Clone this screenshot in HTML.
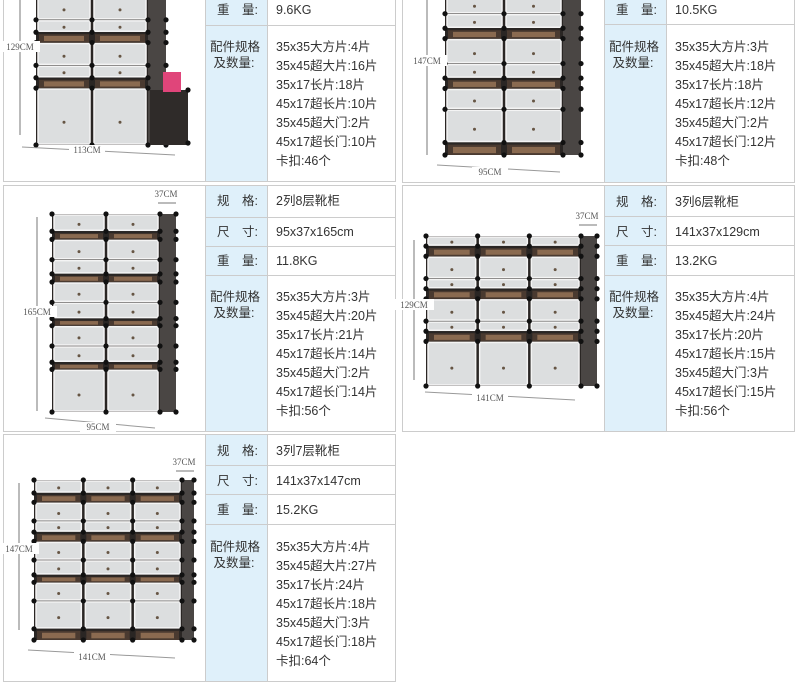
<!DOCTYPE html>
<html><head><meta charset="utf-8">
<style>
body{margin:0;width:800px;height:683px;background:#fff;position:relative;overflow:hidden;font-family:"Liberation Sans","Noto Sans CJK SC",sans-serif;color:#333}
.card{position:absolute;border:1px solid #ccc;background:#fff;box-sizing:border-box}
.lab{position:absolute;background:#dff0fa;border-left:1px solid #ccc;border-right:1px solid #ccc;box-sizing:border-box}
.hl{position:absolute;height:1px;background:#ccc}
.t{position:absolute;font-size:12.5px;white-space:nowrap;line-height:16px}
svg{position:absolute;left:0;top:0}
.dim{font-family:"Liberation Serif",serif;font-size:9px;fill:#555}
</style></head><body>
<div id="root"></div>
<svg id="sv" width="800" height="683"></svg>
<script>
var root=document.getElementById('root'),sv=document.getElementById('sv'),S='';
function div(c,st,txt){var d=document.createElement('div');d.className=c;d.style.cssText=st;if(txt)d.innerHTML=txt;root.appendChild(d);}
function card(x,y,w,h,lx,lw,rows,vals,parts,plbl){
 div('card','left:'+x+'px;top:'+y+'px;width:'+w+'px;height:'+h+'px');
 div('lab','left:'+lx+'px;top:'+(y+1)+'px;width:'+lw+'px;height:'+(h-2)+'px');
 var labs=['规&emsp;格:','尺&emsp;寸:','重&emsp;量:'];
 for(var i=0;i<rows.length;i++){
  var r=rows[i];
  div('hl','left:'+lx+'px;top:'+r[1]+'px;width:'+(x+w-lx-1)+'px');
  if(vals[i]!=null){div('t','left:'+(lx+12)+'px;top:'+(r[0]-8)+'px',labs[r[2]]);div('t','left:'+(lx+lw+8)+'px;top:'+(r[0]-8)+'px',vals[i]);}
 }
 div('t','left:'+(lx+5)+'px;top:'+(plbl-8)+'px;line-height:16px','配件规格<br>&nbsp;及数量:');
 for(var j=0;j<parts.length;j++)div('t','left:'+(lx+lw+8)+'px;top:'+(plbl-8+j*19)+'px',parts[j]);
}
function cab(x,y,w,h,cols,rows,side){
 side=side||16;
 S+='<rect x="'+x+'" y="'+y+'" width="'+(w+side)+'" height="'+h+'" fill="#2a2624"/>';
 S+='<rect x="'+(x+w)+'" y="'+y+'" width="'+side+'" height="'+h+'" fill="#4a4644"/>';
 var tot=0;rows.forEach(function(r){tot+=r[1];});
 var cy=y,cw=w/cols;
 rows.forEach(function(r){
  var rh=r[1]*h/tot;
  for(var c=0;c<cols;c++){
   var cx=x+c*cw;
   if(r[0]=='g'){S+='<rect x="'+(cx+3)+'" y="'+(cy+2)+'" width="'+(cw-6)+'" height="'+(rh-2)+'" fill="#4a3a30"/><rect x="'+(cx+8)+'" y="'+(cy+rh*0.35)+'" width="'+(cw-16)+'" height="'+(rh*0.5)+'" fill="#8a6a50"/>';}
   else{S+='<rect x="'+(cx+2)+'" y="'+(cy+1)+'" width="'+(cw-4)+'" height="'+(rh-2)+'" fill="#dcdedf" stroke="#f4f4f4" stroke-width="1.5"/>';
    S+='<circle cx="'+(cx+cw/2)+'" cy="'+(cy+rh*0.6)+'" r="1.5" fill="#654"/>';}
   S+='<circle cx="'+cx+'" cy="'+cy+'" r="2.6" fill="#111"/>';
  }
  S+='<circle cx="'+(x+w)+'" cy="'+cy+'" r="2.6" fill="#111"/><circle cx="'+(x+w+side)+'" cy="'+cy+'" r="2.6" fill="#111"/>';
  cy+=rh;
 });
 for(var c=0;c<=cols;c++)S+='<circle cx="'+(x+c*cw)+'" cy="'+(y+h)+'" r="2.6" fill="#111"/>';
 S+='<circle cx="'+(x+w+side)+'" cy="'+(y+h)+'" r="2.6" fill="#111"/>';
}
function vdim(x,y1,y2,t,ty){S+='<line x1="'+x+'" y1="'+y1+'" x2="'+x+'" y2="'+y2+'" stroke="#777"/><rect x="'+(x-20)+'" y="'+(ty-7)+'" width="40" height="11" fill="#fff"/><text class="dim" x="'+x+'" y="'+(ty+2)+'" text-anchor="middle">'+t+'</text>';}
function hdim(x1,y1,x2,y2,t,tx,ty){S+='<line x1="'+x1+'" y1="'+y1+'" x2="'+x2+'" y2="'+y2+'" stroke="#999"/><rect x="'+(tx-18)+'" y="'+(ty-8)+'" width="36" height="11" fill="#fff"/><text class="dim" x="'+tx+'" y="'+ty+'" text-anchor="middle">'+t+'</text>';}
function sdim(x,y,t){S+='<text class="dim" x="'+x+'" y="'+y+'" text-anchor="middle">'+t+'</text><line x1="'+(x-8)+'" y1="'+(y+6)+'" x2="'+(x+10)+'" y2="'+(y+6)+'" stroke="#777"/>';}

card(3,-10,393,192,205,63,[[10,25,2]],['9.6KG'],['35x35大方片:4片','35x45超大片:16片','35x17长片:18片','45x17超长片:10片','35x45超大门:2片','45x17超长门:10片','卡扣:46个'],47);
card(402,-10,393,193,604,63,[[10,24,2]],['10.5KG'],['35x35大方片:3片','35x45超大片:18片','35x17长片:18片','45x17超长片:12片','35x45超大门:2片','45x17超长门:12片','卡扣:48个'],47);
card(3,185,393,247,205,63,[[201,217,0],[232,246,1],[261,275,2]],['2列8层靴柜','95x37x165cm','11.8KG'],['35x35大方片:3片','35x45超大片:20片','35x17长片:21片','45x17超长片:14片','35x45超大门:2片','45x17超长门:14片','卡扣:56个'],297);
card(402,185,393,247,604,63,[[202,216,0],[232,245,1],[261,275,2]],['3列6层靴柜','141x37x129cm','13.2KG'],['35x35大方片:4片','35x45超大片:24片','35x17长片:20片','45x17超长片:15片','35x45超大门:3片','45x17超长门:15片','卡扣:56个'],297);
card(3,434,393,248,205,63,[[451,465,0],[481,494,1],[510,524,2]],['3列7层靴柜','141x37x147cm','15.2KG'],['35x35大方片:4片','35x45超大片:27片','35x17长片:24片','45x17超长片:18片','35x45超大门:3片','45x17超长门:18片','卡扣:64个'],547);

cab(36,-5,112,150,2,[['d',24],['d',12],['g',10],['d',22],['d',12],['g',10],['d',55]],18);
S+='<rect x="150" y="90" width="38" height="55" fill="#2f2b29"/><rect x="163" y="72" width="18" height="20" fill="#e0457a"/><circle cx="188" cy="90" r="2.6" fill="#111"/><circle cx="188" cy="143" r="2.6" fill="#111"/>';
vdim(20,-5,135,'129CM',48);
hdim(22,147,175,155,'113CM',87,153);
cab(445,-5,118,160,2,[['d',18],['d',14],['g',10],['d',24],['d',14],['g',10],['d',20],['d',32],['g',12]],18);
vdim(427,-5,155,'147CM',62);
hdim(437,165,560,172,'95CM',490,175);
cab(52,214,108,198,2,[['d',17],['g',8],['d',20],['d',14],['g',8],['d',20],['d',16],['g',7],['d',20],['d',16],['g',7],['d',42]],16);
vdim(37,217,411,'165CM',313);
hdim(45,418,155,428,'95CM',98,430);
sdim(166,197,'37CM');
cab(426,236,155,150,3,[['d',10],['g',10],['d',22],['d',10],['g',10],['d',22],['d',10],['g',10],['d',44]],16);
vdim(414,240,380,'129CM',306);
hdim(425,392,575,400,'141CM',490,401);
sdim(587,219,'37CM');
cab(34,480,148,160,3,[['d',14],['g',10],['d',20],['d',12],['g',10],['d',20],['d',16],['g',8],['d',20],['d',30],['g',12]],12);
vdim(19,483,630,'147CM',550);
hdim(28,650,175,658,'141CM',92,660);
sdim(184,465,'37CM');
sv.innerHTML=S;
</script>
</body></html>
